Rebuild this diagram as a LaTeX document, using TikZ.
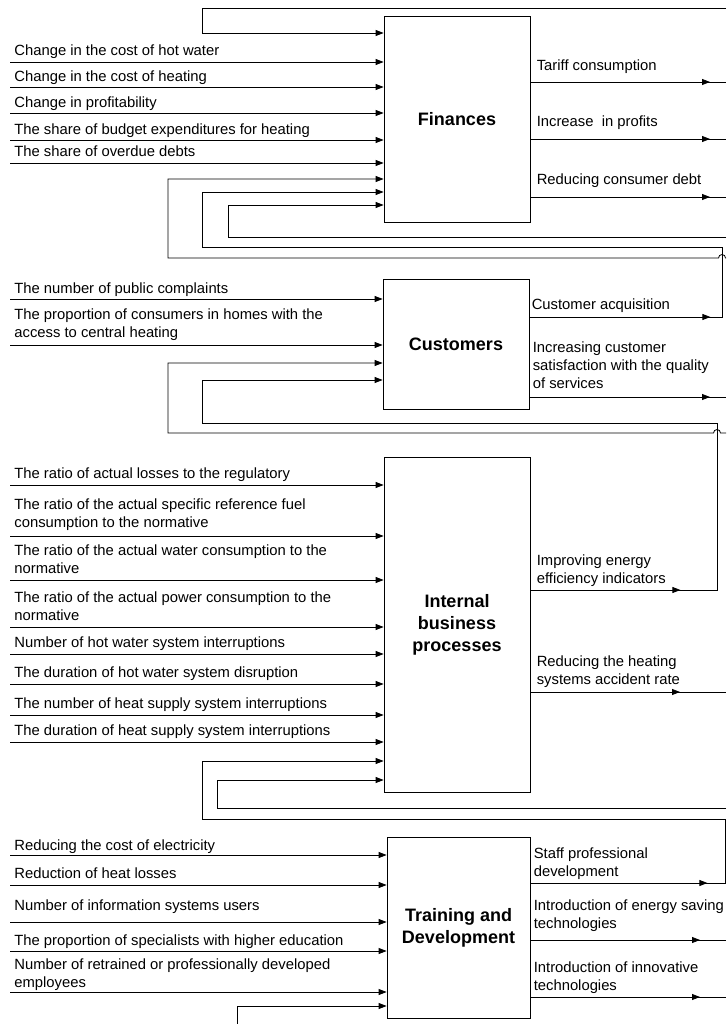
\documentclass[tikz,border=0pt]{standalone}
\usepackage{fontspec}
\setmainfont{Liberation Sans}
\usetikzlibrary{arrows.meta,positioning,decorations.markings}

\tikzset{
  block/.style = {draw, line width = 0.8pt, minimum width = 146pt, align = center,
                  inner sep = 0pt, font = \fontsize{18}{22}\selectfont\bfseries},
  lbl/.style = {anchor = base west, inner sep = 0pt, align = left,
                font = \fontsize{14.8}{18}\selectfont},
  link/.style = {line width = 0.8pt},
  arr/.style = {link, -{Triangle[length = 8pt, width = 6pt]}},
  midtip/.style = {link, postaction = {decorate}, decoration = {markings,
                   mark = at position #1 with {\arrow{Triangle[length = 8pt, width = 6pt]}}}}
}

\begin{document}
\begin{tikzpicture}[x = 1pt, y = -1pt]
\useasboundingbox (0,0) rectangle (726,1024);

\node[block, minimum height = 206pt] (fin) at (457,119) {Finances};
\node[block, minimum height = 130pt] (cust) at (456,344) {Customers};
\node[block, minimum height = 335pt] (ibp) at (457,624.5) {Internal\\business\\processes};
\node[block, minimum width = 143pt, minimum height = 181pt] (train) at (458.5,927.5) {Training and\\Development};

\coordinate (fin-i1) at (10,62);
\coordinate (fin-i2) at (10,87);
\coordinate (fin-i3) at (10,113);
\coordinate (fin-i4) at (10,140);
\coordinate (fin-i5) at (10,163);
\coordinate (cust-i1) at (10,299);
\coordinate (cust-i2) at (10,345);
\coordinate (ibp-i1) at (10,485);
\coordinate (ibp-i2) at (10,536);
\coordinate (ibp-i3) at (10,580);
\coordinate (ibp-i4) at (10,627);
\coordinate (ibp-i5) at (10,654);
\coordinate (ibp-i6) at (10,684);
\coordinate (ibp-i7) at (10,715);
\coordinate (ibp-i8) at (10,742);
\coordinate (train-i1) at (10,855);
\coordinate (train-i2) at (10,885);
\coordinate (train-i3) at (10,922);
\coordinate (train-i4) at (10,951);
\coordinate (train-i5) at (10,992);

\draw[arr] (fin-i1) node[above right = 6pt and 4pt, lbl] (fin-l1) {Change in the cost of hot water} -- (fin-i1 -| fin.west);
\draw[arr] (fin-i2) node[above right = 5pt and 4pt, lbl] (fin-l2) {Change in the cost of heating} -- (fin-i2 -| fin.west);
\draw[arr] (fin-i3) node[above right = 5pt and 4pt, lbl] (fin-l3) {Change in profitability} -- (fin-i3 -| fin.west);
\draw[arr] (fin-i4) node[above right = 5pt and 4pt, lbl] (fin-l4) {The share of budget expenditures for heating} -- (fin-i4 -| fin.west);
\draw[arr] (fin-i5) node[above right = 6pt and 4pt, lbl] (fin-l5) {The share of overdue debts} -- (fin-i5 -| fin.west);

\draw[arr] (cust-i1) node[above right = 6pt and 4pt, lbl] (cust-l1) {The number of public complaints} -- (cust-i1 -| cust.west);
\draw[arr] (cust-i2) node[above right = 8pt and 4pt, lbl] (cust-l2) {The proportion of consumers in homes with the\\access to central heating} -- (cust-i2 -| cust.west);

\draw[arr] (ibp-i1) node[above right = 7pt and 4pt, lbl] (ibp-l1) {The ratio of actual losses to the regulatory} -- (ibp-i1 -| ibp.west);
\draw[arr] (ibp-i2) node[above right = 9pt and 4pt, lbl] (ibp-l2) {The ratio of the actual specific reference fuel\\consumption to the normative} -- (ibp-i2 -| ibp.west);
\draw[arr] (ibp-i3) node[above right = 7pt and 4pt, lbl] (ibp-l3) {The ratio of the actual water consumption to the\\normative} -- (ibp-i3 -| ibp.west);
\draw[arr] (ibp-i4) node[above right = 7pt and 4pt, lbl] (ibp-l4) {The ratio of the actual power consumption to the\\normative} -- (ibp-i4 -| ibp.west);
\draw[arr] (ibp-i5) node[above right = 7pt and 4pt, lbl] (ibp-l5) {Number of hot water system interruptions} -- (ibp-i5 -| ibp.west);
\draw[arr] (ibp-i6) node[above right = 7pt and 4pt, lbl] (ibp-l6) {The duration of hot water system disruption} -- (ibp-i6 -| ibp.west);
\draw[arr] (ibp-i7) node[above right = 7pt and 4pt, lbl] (ibp-l7) {The number of heat supply system interruptions} -- (ibp-i7 -| ibp.west);
\draw[arr] (ibp-i8) node[above right = 7pt and 4pt, lbl] (ibp-l8) {The duration of heat supply system interruptions} -- (ibp-i8 -| ibp.west);

\draw[arr] (train-i1) node[above right = 5pt and 4pt, lbl] (train-l1) {Reducing the cost of electricity} -- (train-i1 -| train.west);
\draw[arr] (train-i2) node[above right = 7pt and 4pt, lbl] (train-l2) {Reduction of heat losses} -- (train-i2 -| train.west);
\draw[arr] (train-i3) node[above right = 12pt and 4pt, lbl] (train-l3) {Number of information systems users} -- (train-i3 -| train.west);
\draw[arr] (train-i4) node[above right = 6pt and 4pt, lbl] (train-l4) {The proportion of specialists with higher education} -- (train-i4 -| train.west);
\draw[arr] (train-i5) node[above right = 5pt and 4pt, lbl] (train-l5) {Number of retrained or professionally developed\\employees} -- (train-i5 -| train.west);

\coordinate (fin-o1) at (726,82);
\coordinate (fin-o2) at (726,139);
\coordinate (fin-o3) at (726,197);
\coordinate (cust-o2) at (726,397);
\coordinate (ibp-o2) at (726,692);
\coordinate (train-o2) at (726,940);
\coordinate (train-o3) at (726,997);

\draw[midtip = -16pt] (fin.east |- fin-o1) node[above right = 11pt and 6pt, lbl] (fin-m1) {Tariff consumption} -- (fin-o1);
\draw[midtip = -16pt] (fin.east |- fin-o2) node[above right = 12pt and 6pt, lbl] (fin-m2) {Increase~ in profits} -- (fin-o2);
\draw[midtip = -16pt] (fin.east |- fin-o3) node[above right = 12pt and 6pt, lbl] (fin-m3) {Reducing consumer debt} -- (fin-o3);
\draw[midtip = -16pt] (cust.east |- cust-o2) node[above right = 9pt and 3pt, lbl] (cust-m2) {Increasing customer\\satisfaction with the quality\\of services} -- (cust-o2);
\draw[midtip = -46pt] (ibp.east |- ibp-o2) node[above right = 8pt and 6pt, lbl] (ibp-m2) {Reducing the heating\\systems accident rate} -- (ibp-o2);
\draw[midtip = -26pt] (train.east |- train-o2) node[above right = 12pt and 3pt, lbl] (train-m2) {Introduction of energy saving\\technologies} -- (train-o2);
\draw[midtip = -26pt] (train.east |- train-o3) node[above right = 7pt and 3pt, lbl] (train-m3) {Introduction of innovative\\technologies} -- (train-o3);

\coordinate (cust-o1) at (722,317);
\coordinate (cust-r1) at (722,247);
\coordinate (ibp-o1) at (717,590);
\coordinate (ibp-r1) at (717,423);
\coordinate (train-o1) at (725,883);
\coordinate (train-r1) at (725,819);
\coordinate (fin-f1) at (202,33);
\coordinate (fin-f2) at (168,179);
\coordinate (fin-f3) at (202,192);
\coordinate (fin-f4) at (228,205);
\coordinate (cust-f1) at (168,363);
\coordinate (cust-f2) at (202,380);
\coordinate (ibp-f1) at (202,761);
\coordinate (ibp-f2) at (217,780);
\coordinate (train-f1) at (237,1006);
\coordinate (back1) at (726,8);
\coordinate (back2) at (726,258);
\coordinate (back3) at (726,237);
\coordinate (back4) at (726,433);
\coordinate (back5) at (726,808);
\coordinate (back6) at (237,1024);

\draw[arr, midtip = 181pt] (cust.east |- cust-o1) node[above right = 8pt and 2pt, lbl] (cust-m1) {Customer acquisition} -- (cust-o1) -- (cust-r1) -| (fin-f3) -- (fin-f3 -| fin.west);
\draw[arr, midtip = 150pt] (ibp.east |- ibp-o1) node[above right = 7pt and 6pt, lbl] (ibp-m1) {Improving energy\\efficiency indicators} -- (ibp-o1) -- (ibp-r1) -| (cust-f2) -- (cust-f2 -| cust.west);
\draw[arr, midtip = 177pt] (train.east |- train-o1) node[above right = 7pt and 3pt, lbl] (train-m1) {Staff professional\\development} -- (train-o1) -- (train-r1) -| (ibp-f1) -- (ibp-f1 -| ibp.west);

\draw[arr] (back1) -| (fin-f1) -- (fin-f1 -| fin.west);
\draw[arr] (back2) -- (725.5,258) arc[start angle = 0, end angle = -180, radius = 3.5] -| (fin-f2) -- (fin-f2 -| fin.west);
\draw[arr] (back3) -| (fin-f4) -- (fin-f4 -| fin.west);
\draw[arr] (back4) -- (720.5,433) arc[start angle = 0, end angle = -180, radius = 3.5] -| (cust-f1) -- (cust-f1 -| cust.west);
\draw[arr] (back5) -| (ibp-f2) -- (ibp-f2 -| ibp.west);
\draw[arr] (back6) -- (train-f1) -- (train-f1 -| train.west);
\end{tikzpicture}
\end{document}
